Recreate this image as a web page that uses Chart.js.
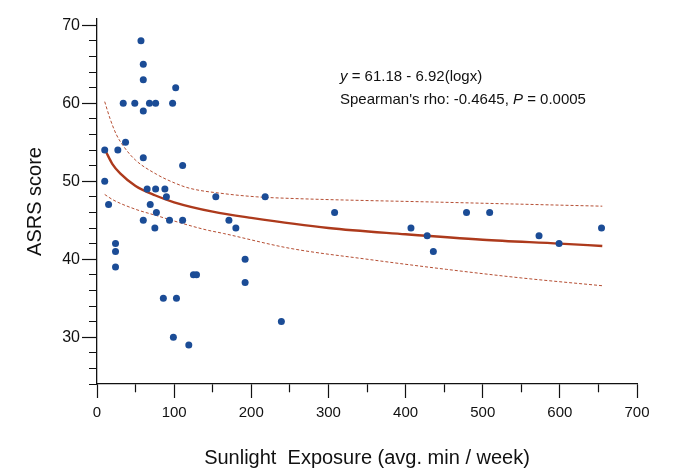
<!DOCTYPE html>
<html>
<head>
<meta charset="utf-8">
<script src="https://cdn.jsdelivr.net/npm/chart.js@4"></script>
<style>
  html, body { margin:0; padding:0; background:#fff; }
  #wrap { position:relative; width:677px; height:476px; }
  #note { position:absolute; left:340px; top:65px; font:15px "Liberation Sans", Arial, sans-serif; line-height:22.6px; color:#111; white-space:nowrap; }
</style>
</head>
<body>
<div id="wrap">
  <canvas id="chart" width="677" height="476"></canvas>
  <div id="note"><i>y</i> = 61.18 - 6.92(logx)<br>Spearman's rho: -0.4645, <i>P</i> = 0.0005</div>
</div>
<script>
// sunlight exposure (avg. min/week) and ASRS score per subject
const sunlight = [57, 60, 60, 102, 34, 49, 68, 76, 98, 60, 37, 10, 27, 60, 111, 10, 65, 76, 88, 90,
                  154, 218, 15, 69, 77, 308, 479, 509, 60, 94, 111, 171, 75, 180, 407, 654, 428, 573, 24, 599,
                  24, 436, 192, 24, 125, 129, 192, 86, 103, 239, 99, 119];
const asrs = [68, 65, 63, 62, 60, 60, 60, 60, 60, 59, 55, 54, 54, 53, 52, 50, 49, 49, 49, 48,
              48, 48, 47, 47, 46, 46, 46, 46, 45, 45, 45, 45, 44, 44, 44, 44, 43, 43, 42, 42,
              41, 41, 40, 39, 38, 38, 37, 35, 35, 32, 30, 29];

// fitted curve and its band
const fitX = [11, 20, 30, 50, 75, 100, 150, 200, 300, 400, 500, 600, 655];
const fitY = [53.9, 52.2, 51.0, 49.4, 48.2, 47.3, 46.1, 45.3, 44.0, 43.2, 42.5, 42.0, 41.7];
const upperX = [10, 17, 25, 35, 50, 77, 100, 120, 165, 207, 250, 450, 655];
const upperY = [60.2, 58.0, 56.0, 54.4, 52.7, 50.9, 49.8, 49.1, 48.4, 48.0, 47.8, 47.3, 46.8];
const lowerX = [10, 21, 50, 77, 100, 140, 164, 250, 350, 453, 550, 655];
const lowerY = [48.3, 47.6, 46.4, 45.6, 44.9, 43.8, 43.3, 41.4, 40.0, 38.7, 37.6, 36.6];

const xTicksMajor = 100;
const yTicksMajor = 10;

function pts(xs, ys){
    let out = [];
    for(let i=0;i<xs.length;i++){
        out.push({x:xs[i], y:ys[i]});
    }
    return out;
}

function isMajor(v, step){
    return Math.round(v) % step === 0;
}

const red = "#ad3a1c";
const font = "'Liberation Sans', Arial, sans-serif";

new Chart(document.getElementById("chart").getContext("2d"), {
    type: 'scatter',
    data: {
        datasets: [
            {
                label: 'fit',
                data: pts(fitX, fitY),
                showLine: true,
                borderColor: red,
                borderWidth: 2.4,
                pointRadius: 0,
                cubicInterpolationMode: 'monotone',
                order: 2
            },
            {
                label: 'upper',
                data: pts(upperX, upperY),
                showLine: true,
                borderColor: red,
                borderWidth: 0.9,
                borderDash: [3, 2],
                pointRadius: 0,
                cubicInterpolationMode: 'monotone',
                order: 3
            },
            {
                label: 'lower',
                data: pts(lowerX, lowerY),
                showLine: true,
                borderColor: red,
                borderWidth: 0.9,
                borderDash: [3, 2],
                pointRadius: 0,
                cubicInterpolationMode: 'monotone',
                order: 3
            },
            {
                label: 'subjects',
                data: pts(sunlight, asrs),
                backgroundColor: '#1b4c96',
                borderColor: '#1b4c96',
                borderWidth: 0,
                pointRadius: 3.5,
                order: 1
            }
        ]
    },
    options: {
        responsive: false,
        animation: false,
        layout: { padding: { left: 0, right: 40, top: 19, bottom: 0 } },
        plugins: {
            legend: { display: false },
            tooltip: { enabled: false }
        },
        scales: {
            x: {
                type: 'linear',
                min: 0,
                max: 700,
                afterFit: (s) => { s.height = 92; },
                border: { display: true, color: '#111', width: 1.3 },
                grid: {
                    display: true,
                    drawOnChartArea: false,
                    color: '#111',
                    tickLength: 14,
                    tickWidth: 1.2,
                    tickBorderDash: (ctx) => (ctx.tick && isMajor(ctx.tick.value, xTicksMajor)) ? [] : [8, 100]
                },
                ticks: {
                    stepSize: 50,
                    maxRotation: 0,
                    autoSkip: false,
                    padding: 6,
                    color: '#111',
                    font: { family: font, size: 15 },
                    callback: (v) => isMajor(v, xTicksMajor) ? Math.round(v) : ''
                },
                title: {
                    display: true,
                    text: 'Sunlight  Exposure (avg. min / week)',
                    color: '#111',
                    font: { family: font, size: 20 },
                    padding: { top: 0, bottom: 6 }
                }
            },
            y: {
                type: 'linear',
                min: 24,
                max: 70.8,
                afterFit: (s) => { s.width = 97; },
                afterBuildTicks: (s) => {
                    let list = [];
                    for(let v=24; v<=70; v+=2){ list.push({value:v}); }
                    s.ticks = list;
                },
                border: { display: true, color: '#111', width: 1.3 },
                grid: {
                    display: true,
                    drawOnChartArea: false,
                    color: '#111',
                    tickLength: 15,
                    tickWidth: 1.2,
                    tickBorderDash: (ctx) => (ctx.tick && isMajor(ctx.tick.value, yTicksMajor)) ? [] : [0, 7, 8, 100]
                },
                ticks: {
                    stepSize: 2,
                    includeBounds: false,
                    autoSkip: false,
                    padding: 2,
                    color: '#111',
                    font: { family: font, size: 16 },
                    callback: (v) => isMajor(v, yTicksMajor) ? Math.round(v) : ''
                },
                title: {
                    display: true,
                    text: 'ASRS score',
                    color: '#111',
                    font: { family: font, size: 20 },
                    padding: { top: 23, bottom: 0 }
                }
            }
        }
    }
});
</script>
</body>
</html>
